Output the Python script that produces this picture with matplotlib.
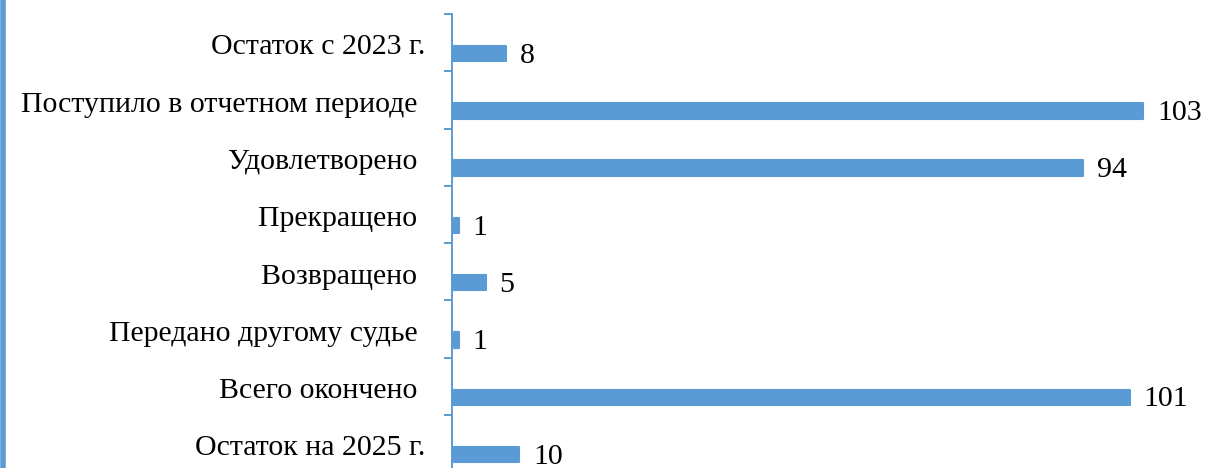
import matplotlib
matplotlib.use("Agg")
import matplotlib.pyplot as plt
from matplotlib.lines import Line2D
import numpy as np

categories = [
    "Остаток с 2023 г.",
    "Поступило в отчетном периоде ",
    "Удовлетворено ",
    "Прекращено ",
    "Возвращено ",
    "Передано другому судье ",
    "Всего окончено ",
    "Остаток на 2025 г.",
]
values = [8, 103, 94, 1, 5, 1, 101, 10]

BLUE = "#5B9BD5"
plt.rcParams["font.family"] = ["Liberation Serif", "DejaVu Serif"]

W, H = 1205, 468
fig = plt.figure(figsize=(W / 100, H / 100), dpi=100)
band = 57.3
top = 14
n = len(categories)
ax_h = band * n
ax = fig.add_axes([452 / W, (H - top - ax_h) / H, (W - 452) / W, ax_h / H])

y = np.arange(n)
offset = 0.19
bh = 0.27
ax.barh(y + offset, values, height=bh, color=BLUE, edgecolor=BLUE,
        linewidth=1.5, joinstyle="round", zorder=3)

ax.set_xlim(0, (W - 452) / 6.71)
ax.set_ylim(n - 0.5, -0.5)

# category labels
ax.set_yticks(y + 0.03)
ax.set_yticklabels(categories, fontsize=21.5)
ax.tick_params(axis="y", which="major", length=0, pad=19.5)
# boundary ticks
ax.set_yticks(np.arange(n + 1) - 0.5, minor=True)
ax.tick_params(axis="y", which="minor", length=5.5, width=1.4, color=BLUE, direction="out")

ax.set_xticks([])
for s in ["top", "right", "bottom"]:
    ax.spines[s].set_visible(False)
ax.spines["left"].set_color(BLUE)
ax.spines["left"].set_linewidth(1.4)

for yi, v in zip(y, values):
    ax.annotate(str(v), xy=(v, yi + offset), xytext=(10, -1.5), textcoords="offset points",
                va="center", ha="left", fontsize=21.5, annotation_clip=False)

fig.add_artist(Line2D([2.5 / W, 2.5 / W], [0, 1], transform=fig.transFigure,
                      color=BLUE, linewidth=4))

fig.savefig("out.png", dpi=100)
